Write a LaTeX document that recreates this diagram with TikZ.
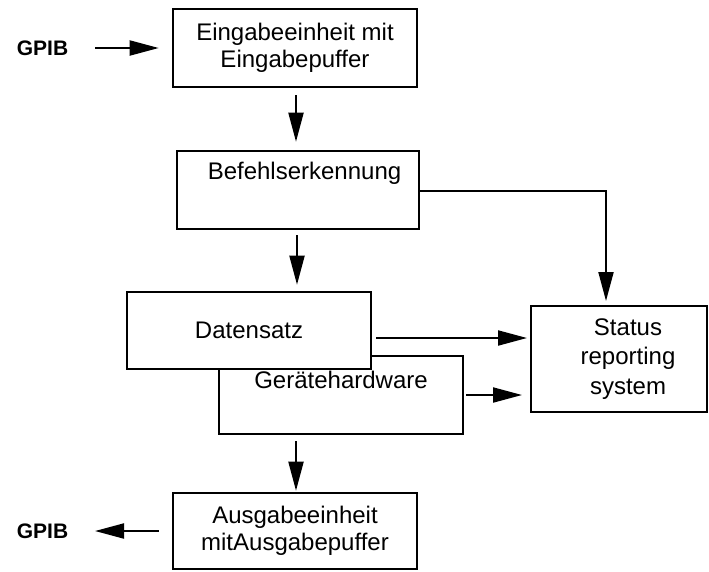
\documentclass[tikz,border=0pt]{standalone}
\usepackage{fontspec}
\setmainfont{Liberation Sans}
\usetikzlibrary{arrows.meta,positioning,calc}

\begin{document}
\begin{tikzpicture}[
    x=1pt, y=-1pt,
    box/.style={rectangle, draw, line width=2.6pt, fill=white, inner sep=0pt, align=center,
        minimum width=244pt, minimum height=78pt, font=\fontsize{24}{27}\selectfont},
    statusbox/.style={box, line width=2pt, minimum width=176pt, minimum height=106pt},
    gpib/.style={font=\fontsize{21}{24}\selectfont\bfseries},
    flow/.style={line width=2pt, -{Triangle[length=29pt, width=15pt]}},
]
\useasboundingbox (0,0) rectangle (709,571);

% Inputs and outputs
\node[gpib] (gpibin) at (42.5,48) {GPIB};
\node[gpib] (gpibout) at (42.5,531) {GPIB};

% Boxes
\node[box] (eingabe) at (295,48) {Eingabeeinheit mit\\Eingabepuffer};
\node[box, minimum width=242pt, text height=17pt, text depth=39pt] (befehl) at (298,190) {\hspace*{13pt}Befehlserkennung};
\node[box, text height=17pt, text depth=31pt] (geraete) at (341,395) {Gerätehardware};
\node[box, minimum height=77pt] (daten) at (249,330.5) {Datensatz};
\node[statusbox, label={[xshift=9pt, align=center, font=\fontsize{24}{29.5}\selectfont]center:{Status\\reporting\\system}}] (status) at (619,359) {};
\node[box, minimum height=76pt] (ausgabe) at (295,531) {Ausgabeeinheit\\mitAusgabepuffer};

% Main path
\draw[flow, shorten <=52.5pt, shorten >=13pt] (gpibin.center) -- (eingabe.west);
\draw[flow, shorten <=7pt, shorten >=8pt] ([xshift=1pt]eingabe.south) -- ([xshift=1pt]eingabe.south |- befehl.north);
\draw[flow, shorten <=5pt, shorten >=6pt] ([xshift=-1pt]befehl.south) -- ([xshift=-1pt]befehl.south |- daten.north);
\draw[flow, shorten <=6pt, shorten >=1pt] ([xshift=1pt]ausgabe.north |- geraete.south) -- ([xshift=1pt]ausgabe.north);
\draw[flow, shorten <=13pt, shorten >=52.5pt] (ausgabe.west) -- (gpibout.center);

% Status reporting
\draw[flow, shorten >=4pt] ([yshift=-1pt]befehl.east) -| ([xshift=-13pt]status.north);
\draw[flow, shorten <=4pt, shorten >=3pt] ([yshift=-7.5pt]daten.east) -- ([yshift=-7.5pt]daten.east -| status.west);
\draw[flow, shorten <=2pt, shorten >=8pt] (geraete.east) -- (geraete.east -| status.west);

\end{tikzpicture}
\end{document}
